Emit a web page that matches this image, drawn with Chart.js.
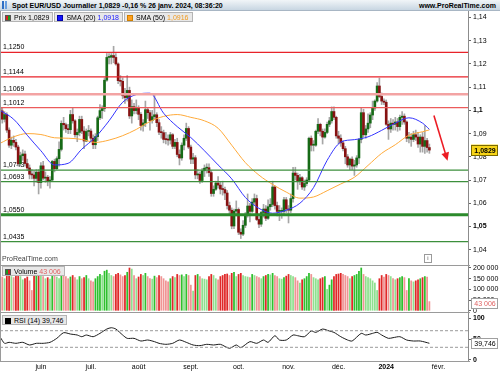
<!DOCTYPE html>
<html>
<head>
<meta charset="utf-8">
<script src="https://cdn.jsdelivr.net/npm/chart.js@4.4.0/dist/chart.umd.min.js"></script>
<style>
  body { margin:0; width:500px; height:375px; position:relative; overflow:hidden; background:#fff;
         font-family:"Liberation Sans", Arial, sans-serif; font-size:7px; color:#000; }
  canvas { position:absolute; left:0; }
  .hdr { position:absolute; left:0; top:0; width:500px; height:11px; box-sizing:border-box;
         background:linear-gradient(#f1f5f8,#c8d6e2); border-bottom:1px solid #a8b6c4; z-index:5; }
  .hdr b { position:absolute; top:1px; font-size:7px; line-height:9px; }
  .ico { position:absolute; left:2px; top:1px; width:7px; height:8px;
         background:linear-gradient(90deg,#2f6fc4 0 2px,transparent 2px 3px,#6aa0e0 3px 5px,transparent 5px); }
  .row { position:absolute; left:2px; display:flex; gap:1px; z-index:5; }
  .lg { height:10px; line-height:9px; background:#e8e8e8; border:1px solid #b4b4b4;
        box-sizing:border-box; padding:0 3px 0 2px; white-space:nowrap; }
  .sq { display:inline-block; width:6px; height:6px; margin-right:3px; vertical-align:-1px; box-sizing:border-box; }
  .line { position:absolute; background:#9a9a9a; z-index:4; }
  .wm { position:absolute; left:2px; top:255px; color:#444; z-index:5; }
  .info { position:absolute; left:424px; top:254px; width:6px; height:7px; border:1px solid #9a9a9a;
          font-size:6px; line-height:7px; text-align:center; color:#555; z-index:5; }
</style>
</head>
<body>
<div class="hdr"><span class="ico"></span>
  <b style="left:12px">Spot EUR/USD Journalier 1,0829 -0,16 % 26 janv. 2024, 08:36:20</b>
  <b style="right:4px">www.ProRealTime.com</b>
</div>
<div class="row" style="top:12px">
  <div class="lg"><span class="sq" style="background:linear-gradient(90deg,#d42020 50%,#1c9a1c 50%);border:1px solid #555"></span>Prix <span id="lgPrix"></span></div>
  <div class="lg"><span class="sq" style="background:#1414ff;border:1px solid #0000aa"></span>SMA (20) <span id="lgSma20" style="color:#2020ff"></span></div>
  <div class="lg"><span class="sq" style="background:#ffa020;border:1px solid #d08000"></span>SMA (50) <span id="lgSma50" style="color:#f09a20"></span></div>
</div>
<div class="wm">ProRealTime.com</div>
<div class="info">i</div>
<div class="row" style="top:266px">
  <div class="lg"><span class="sq" style="background:linear-gradient(90deg,#1c9a1c 50%,#d42020 50%);border:1px solid #555"></span>Volume <span id="lgVol" style="color:#e06262"></span></div>
</div>
<div class="row" style="top:315px">
  <div class="lg"><span class="sq" style="background:#000"></span>RSI (14) <span id="lgRsi"></span></div>
</div>

<div class="line" style="left:0;top:11px;width:1px;height:351px"></div>
<div class="line" style="left:0;top:265px;width:470px;height:1px"></div>
<div class="line" style="left:0;top:312px;width:470px;height:1px"></div>
<div class="line" style="left:0;top:361px;width:470px;height:1px"></div>

<canvas id="price" width="500" height="266" style="top:0"></canvas>
<canvas id="volume" width="500" height="60" style="top:255px"></canvas>
<canvas id="rsi" width="500" height="70" style="top:305px"></canvas>

<script>
// daily candles, 8 May 2023 -> 26 Jan 2024 (index = trading day)
const opens = [
  1.1010,1.0998,1.0962,1.0982,1.0915,1.0850,1.0871,1.0862,1.0842,1.0770,
  1.0805,1.0812,1.0771,1.0752,1.0725,1.0722,1.0707,1.0734,1.0689,1.0761,
  1.0708,1.0712,1.0693,1.0700,1.0780,1.0749,1.0792,1.0832,1.0944,1.0938,
  1.0921,1.0917,1.0982,1.0955,1.0895,1.0905,1.0961,1.0911,1.0868,1.0909,
  1.0911,1.0880,1.0852,1.0887,1.0968,1.0999,1.1008,1.1130,1.1228,1.1229,
  1.1236,1.1228,1.1200,1.1128,1.1125,1.1063,1.1055,1.1086,1.0976,1.1016,
  1.0999,1.1010,1.0983,1.0935,1.0946,1.1003,1.0990,1.0956,1.0973,1.0981,
  1.0947,1.0906,1.0904,1.0875,1.0874,1.0872,1.0895,1.0845,1.0862,1.0810,
  1.0795,1.0850,1.0880,1.0922,1.0842,1.0790,1.0796,1.0722,1.0725,1.0698,
  1.0740,1.0751,1.0753,1.0732,1.0642,1.0660,1.0687,1.0678,1.0661,1.0659,
  1.0644,1.0590,1.0570,1.0502,1.0566,1.0573,1.0475,1.0467,1.0505,1.0550,
  1.0588,1.0565,1.0605,1.0620,1.0530,1.0510,1.0560,1.0575,1.0535,1.0585,
  1.0595,1.0670,1.0590,1.0565,1.0565,1.0565,1.0615,1.0575,1.0570,1.0620,
  1.0730,1.0720,1.0695,1.0710,1.0670,1.0685,1.0700,1.0880,1.0850,1.0850,
  1.0910,1.0940,1.0910,1.0885,1.0905,1.0940,1.0955,1.0995,1.0970,1.0890,
  1.0880,1.0860,1.0835,1.0800,1.0765,1.0790,1.0760,1.0765,1.0795,1.0875,
  1.0990,1.0895,1.0920,1.0945,1.0980,1.1010,1.1040,1.1105,1.1060,1.1040,
  1.1035,1.0940,1.0920,1.0945,1.0940,1.0950,1.0930,1.0970,1.0975,1.0950,
  1.0880,1.0885,1.0875,1.0895,1.0885,1.0855,1.0885,1.0845,1.0870,1.0840
];
const highs = [
  1.1040,1.1010,1.0995,1.0990,1.0925,1.0885,1.0890,1.0875,1.0850,1.0820,
  1.0830,1.0825,1.0790,1.0765,1.0745,1.0740,1.0745,1.0745,1.0775,1.0780,
  1.0735,1.0720,1.0715,1.0785,1.0790,1.0800,1.0865,1.0955,1.0970,1.0945,
  1.0940,1.1000,1.1010,1.0960,1.0920,1.0975,1.0975,1.0930,1.0920,1.0935,
  1.0920,1.0895,1.0900,1.0975,1.1025,1.1020,1.1140,1.1245,1.1245,1.1245,
  1.1276,1.1245,1.1205,1.1150,1.1140,1.1095,1.1150,1.1100,1.1045,1.1030,
  1.1045,1.1020,1.0990,1.0960,1.1040,1.1010,1.1000,1.1000,1.1065,1.0990,
  1.0960,1.0930,1.0915,1.0905,1.0895,1.0905,1.0900,1.0875,1.0880,1.0830,
  1.0860,1.0895,1.0945,1.0930,1.0850,1.0815,1.0805,1.0745,1.0735,1.0750,
  1.0765,1.0770,1.0770,1.0740,1.0675,1.0695,1.0715,1.0690,1.0695,1.0670,
  1.0655,1.0605,1.0580,1.0575,1.0610,1.0580,1.0490,1.0525,1.0560,1.0640,
  1.0600,1.0620,1.0640,1.0635,1.0545,1.0565,1.0595,1.0590,1.0615,1.0620,
  1.0695,1.0675,1.0605,1.0590,1.0580,1.0625,1.0625,1.0590,1.0640,1.0755,
  1.0755,1.0730,1.0725,1.0715,1.0700,1.0710,1.0885,1.0890,1.0870,1.0915,
  1.0965,1.0945,1.0920,1.0920,1.0950,1.0970,1.1015,1.1015,1.0975,1.0910,
  1.0895,1.0870,1.0845,1.0810,1.0795,1.0800,1.0785,1.0805,1.0880,1.1010,
  1.1005,1.0935,1.0985,1.0990,1.1040,1.1045,1.1120,1.1139,1.1075,1.1050,
  1.1045,1.0955,1.0965,1.0960,1.0970,1.0965,1.0980,1.0995,1.0985,1.0955,
  1.0905,1.0900,1.0910,1.0915,1.0905,1.0895,1.0905,1.0935,1.0880,1.0855
];
const lows = [
  1.0975,1.0945,1.0950,1.0905,1.0840,1.0835,1.0845,1.0830,1.0760,1.0760,
  1.0785,1.0760,1.0740,1.0705,1.0705,1.0675,1.0690,1.0640,1.0665,1.0700,
  1.0690,1.0675,1.0665,1.0695,1.0735,1.0745,1.0760,1.0825,1.0915,1.0905,
  1.0900,1.0900,1.0945,1.0885,1.0865,1.0890,1.0900,1.0835,1.0865,1.0890,
  1.0865,1.0835,1.0835,1.0870,1.0960,1.0965,1.0995,1.1125,1.1200,1.1200,
  1.1205,1.1195,1.1115,1.1105,1.1050,1.1030,1.1040,1.0965,1.0945,1.0985,
  1.0985,1.0960,1.0915,1.0910,1.0930,1.0965,1.0915,1.0945,1.0960,1.0930,
  1.0895,1.0880,1.0860,1.0855,1.0850,1.0855,1.0835,1.0835,1.0800,1.0765,
  1.0785,1.0830,1.0870,1.0835,1.0770,1.0770,1.0705,1.0705,1.0685,1.0690,
  1.0715,1.0730,1.0715,1.0630,1.0630,1.0655,1.0665,1.0640,1.0635,1.0615,
  1.0575,1.0555,1.0490,1.0490,1.0545,1.0465,1.0448,1.0460,1.0495,1.0540,
  1.0520,1.0560,1.0595,1.0525,1.0495,1.0500,1.0540,1.0525,1.0530,1.0570,
  1.0585,1.0575,1.0545,1.0525,1.0535,1.0555,1.0560,1.0515,1.0560,1.0605,
  1.0700,1.0660,1.0680,1.0660,1.0655,1.0675,1.0695,1.0825,1.0825,1.0845,
  1.0900,1.0890,1.0855,1.0880,1.0900,1.0930,1.0945,1.0960,1.0880,1.0855,
  1.0845,1.0825,1.0770,1.0755,1.0745,1.0745,1.0720,1.0755,1.0770,1.0860,
  1.0885,1.0880,1.0905,1.0925,1.0960,1.1000,1.1035,1.1055,1.1025,1.1025,
  1.0935,1.0875,1.0905,1.0915,1.0915,1.0910,1.0915,1.0940,1.0940,1.0865,
  1.0860,1.0845,1.0865,1.0870,1.0840,1.0820,1.0820,1.0815,1.0820,1.0815
];
const closes = [
  1.0998,1.0962,1.0982,1.0915,1.0850,1.0871,1.0862,1.0842,1.0770,1.0805,
  1.0812,1.0771,1.0752,1.0725,1.0722,1.0707,1.0734,1.0689,1.0761,1.0708,
  1.0712,1.0693,1.0700,1.0780,1.0749,1.0792,1.0832,1.0944,1.0938,1.0921,
  1.0917,1.0982,1.0955,1.0895,1.0905,1.0961,1.0911,1.0868,1.0909,1.0911,
  1.0880,1.0852,1.0887,1.0968,1.0999,1.1008,1.1130,1.1228,1.1229,1.1236,
  1.1228,1.1200,1.1128,1.1125,1.1063,1.1055,1.1086,1.0976,1.1016,1.0999,
  1.1010,1.0983,1.0935,1.0946,1.1003,1.0990,1.0956,1.0973,1.0981,1.0947,
  1.0906,1.0904,1.0875,1.0874,1.0872,1.0895,1.0845,1.0862,1.0810,1.0795,
  1.0850,1.0880,1.0922,1.0842,1.0790,1.0796,1.0722,1.0725,1.0698,1.0740,
  1.0751,1.0753,1.0732,1.0642,1.0660,1.0687,1.0678,1.0661,1.0659,1.0644,
  1.0590,1.0570,1.0502,1.0566,1.0573,1.0475,1.0467,1.0505,1.0550,1.0588,
  1.0565,1.0605,1.0620,1.0530,1.0510,1.0560,1.0575,1.0535,1.0585,1.0595,
  1.0670,1.0590,1.0565,1.0565,1.0565,1.0615,1.0575,1.0570,1.0620,1.0730,
  1.0720,1.0695,1.0710,1.0670,1.0685,1.0700,1.0880,1.0850,1.0850,1.0910,
  1.0940,1.0910,1.0885,1.0905,1.0940,1.0955,1.0995,1.0970,1.0890,1.0880,
  1.0860,1.0835,1.0800,1.0765,1.0790,1.0760,1.0765,1.0795,1.0875,1.0990,
  1.0895,1.0920,1.0945,1.0980,1.1010,1.1040,1.1105,1.1060,1.1040,1.1035,
  1.0940,1.0920,1.0945,1.0940,1.0950,1.0930,1.0970,1.0975,1.0950,1.0880,
  1.0885,1.0875,1.0895,1.0885,1.0855,1.0885,1.0845,1.0870,1.0840,1.0829
];
// volume in thousands
const volumesK = [
  165,158,150,162,170,160,155,168,172,160,
  145,150,158,140,95,165,170,175,168,160,
  150,155,148,170,162,158,150,180,172,160,
  150,158,165,155,145,160,150,155,165,150,
  140,135,150,160,170,165,185,190,175,165,
  160,170,175,168,160,165,180,200,195,165,
  150,158,170,165,175,160,150,148,162,155,
  165,160,150,140,135,150,160,155,170,165,
  168,160,170,165,120,92,165,170,160,150,
  148,145,160,170,165,150,145,160,165,170,
  172,165,175,180,160,170,175,165,160,158,
  155,170,165,160,155,150,160,165,170,168,
  175,165,160,150,148,155,162,170,165,160,
  155,140,130,145,150,160,175,170,155,150,
  145,150,155,160,100,120,145,160,170,172,
  175,170,165,160,150,160,165,170,185,200,
  170,160,155,150,140,130,95,150,165,158,
  170,165,160,150,145,150,155,160,155,95,
  150,140,135,140,145,150,155,160,158,43.006
];

const smaDays = [0,6,12,18,24,30,36,42,48,54,60,66,72,78,84,90,96,102,108,114,120,126,132,138,144,150,156,162,168,174,180,186,189];
const sma20 = [1.1000,1.0962,1.0893,1.0826,1.0765,1.0772,1.0833,1.0884,1.0955,1.1035,1.1068,1.1074,1.0988,1.0930,1.0883,1.0826,1.0765,
               1.0705,1.0625,1.0578,1.0557,1.0570,1.0600,1.0667,1.0785,1.0863,1.0874,1.0886,1.0914,1.0945,1.0968,1.0945,1.0918];
const sma50 = [1.0858,1.0886,1.0900,1.0896,1.0882,1.0880,1.0875,1.0862,1.0872,1.0891,1.0918,1.0952,1.0974,1.0982,1.0970,1.0955,1.0923,
               1.0850,1.0775,1.0721,1.0681,1.0648,1.0622,1.0627,1.0654,1.0683,1.0712,1.0763,1.0815,1.0852,1.0893,1.0908,1.0916];

const rsiDays = [0,2,4,7,10,13,16,19,22,25,28,31,34,36,38,41,44,47,49,51,54,56,59,62,65,68,70,73,76,79,82,85,88,91,94,97,101,104,106,110,
                 113,116,118,121,123,126,129,131,134,137,139,142,145,147,150,153,155,159,161,164,166,168,171,173,176,179,182,185,189];
const rsiVals = [55.6,39.6,42,39.6,42,35.6,39.6,39.6,42,51.6,65.2,62,59.6,55.6,59.6,55.6,63.6,74,77.2,74,59.6,51.6,51.6,45.2,47.6,
                 43.6,39.6,37.2,39.6,47.6,42,35.6,34,37.2,35.6,37.2,27.6,35.6,29.2,43.6,39.6,47.6,42,58,47.6,47.6,59.6,58,55.6,69.2,
                 66,74,69.2,66,55.6,47.6,45.2,63.6,59.6,63.6,66,59.6,51.6,53.2,55.6,47.6,45.2,45.2,39.746];
const rsiLevels = [70, 30];

const resistances = [1.1250, 1.1144, 1.1069, 1.1012];
const supports = [1.0743, 1.0693, 1.0550, 1.0435];
const arrowFrom = [191, 1.0978];
const arrowTo = [197, 1.0783];

const monthStarts = [18, 40, 61, 84, 105, 127, 149, 170, 193];
const monthLabels = ['juin', 'juil.', 'août', 'sept.', 'oct.', 'nov.', 'déc.', '2024', 'févr.'];
const priceTicks = [1.04, 1.05, 1.06, 1.07, 1.08, 1.09, 1.10, 1.11, 1.12, 1.13, 1.14];
const volumeTicks = [0, 50, 100, 150, 200];
const rsiTicks = [0, 50, 100];

// ---- setup
const X_MIN = 0, X_MAX = 206;
const FONT = '"Liberation Sans", Arial, sans-serif';
Chart.defaults.font.family = FONT;
Chart.defaults.font.size = 7;
Chart.defaults.color = '#000';
Chart.defaults.animation = false;
Chart.defaults.plugins.legend.display = false;
Chart.defaults.plugins.tooltip.enabled = false;

const last = closes.length - 1;
const comma = (v, d) => v.toFixed(d).replace('.', ',');
const spaced = n => String(Math.round(n)).replace(/\B(?=(\d{3})+(?!\d))/g, ' ');

document.getElementById('lgPrix').textContent = comma(closes[last], 4);
document.getElementById('lgSma20').textContent = comma(sma20[sma20.length - 1], 4);
document.getElementById('lgSma50').textContent = comma(sma50[sma50.length - 1], 4);
document.getElementById('lgVol').textContent = spaced(volumesK[last] * 1000);
document.getElementById('lgRsi').textContent = comma(rsiVals[rsiVals.length - 1], 3);

const up = closes.map((c, i) => c >= opens[i]);

function rightAxis(min, max, ticks, fmt, boldSet) {
  return {
    position: 'right', min: min, max: max,
    afterFit: s => { s.width = 32; s.paddingTop = 0; s.paddingBottom = 0; },
    afterBuildTicks: s => { s.ticks = ticks.map(v => ({ value: v })); },
    grid: { drawOnChartArea: false, tickLength: 3, color: '#666' },
    border: { color: '#8c8c8c' },
    ticks: {
      padding: 2, callback: fmt,
      font: c => ({ family: FONT, size: 7, weight: boldSet.includes(c.tick && c.tick.value) ? 'bold' : 'normal' })
    }
  };
}
function hiddenX() {
  return { type: 'linear', min: X_MIN, max: X_MAX, offset: false, display: false };
}
function flatLine(v, color, width, dash) {
  return { type: 'line', data: [{ x: X_MIN, y: v }, { x: X_MAX, y: v }], borderColor: color,
           borderWidth: width, borderDash: dash || [], pointRadius: 0, order: 0 };
}
function valueBox(ctx, x, y, text, opts) {
  ctx.save();
  ctx.font = (opts.bold ? 'bold ' : '') + '7px ' + FONT;
  ctx.fillStyle = opts.bg;
  ctx.fillRect(x, y - 5.5, 27, 11);
  ctx.strokeStyle = opts.border;
  ctx.lineWidth = 1;
  ctx.strokeRect(x + 0.5, Math.round(y - 5.5) + 0.5, 26, 10);
  ctx.fillStyle = opts.color;
  ctx.textAlign = 'center';
  ctx.textBaseline = 'middle';
  ctx.fillText(text, x + 14, y + 0.5);
  ctx.restore();
}

// ---- price panel
const pricePlugin = {
  id: 'pricePlugin',
  beforeDatasetsDraw(chart) {
    const { ctx, scales: { y } } = chart;
    ctx.save();
    ctx.font = '7px ' + FONT;
    ctx.fillStyle = '#000';
    ctx.textBaseline = 'alphabetic';
    resistances.concat(supports).forEach(v => ctx.fillText(comma(v, 4), 3, y.getPixelForValue(v) - 3));
    ctx.restore();
  },
  afterDatasetsDraw(chart) {
    const { ctx, scales: { x, y } } = chart;
    const x1 = x.getPixelForValue(arrowFrom[0]), y1 = y.getPixelForValue(arrowFrom[1]);
    const x2 = x.getPixelForValue(arrowTo[0]), y2 = y.getPixelForValue(arrowTo[1]);
    const a = Math.atan2(y2 - y1, x2 - x1), head = 9;
    ctx.save();
    ctx.strokeStyle = '#ec1c24';
    ctx.fillStyle = '#ec1c24';
    ctx.lineWidth = 1.6;
    ctx.beginPath();
    ctx.moveTo(x1, y1);
    ctx.lineTo(x2 - head * 0.8 * Math.cos(a), y2 - head * 0.8 * Math.sin(a));
    ctx.stroke();
    ctx.beginPath();
    ctx.moveTo(x2, y2);
    ctx.lineTo(x2 - head * Math.cos(a - 0.45), y2 - head * Math.sin(a - 0.45));
    ctx.lineTo(x2 - head * Math.cos(a + 0.45), y2 - head * Math.sin(a + 0.45));
    ctx.closePath();
    ctx.fill();
    ctx.restore();
  },
  afterDraw(chart) {
    const y = chart.scales.y;
    valueBox(chart.ctx, 471, y.getPixelForValue(closes[last]), comma(closes[last], 4),
             { bg: '#f7d417', border: '#7a6a00', color: '#000', bold: true });
  }
};

const resColors = ['#e8232a', '#e8232a', '#f3a3a3', '#ec5b5b'];
const resWidths = [1.2, 1.2, 2.5, 1.2];
const supColors = ['#3c8f3c', '#3c8f3c', '#2b8a2b', '#3c8f3c'];
const supWidths = [1.2, 1.2, 3, 1.2];

new Chart(document.getElementById('price'), {
  type: 'bar',
  data: {
    datasets: [
      ...resistances.map((v, i) => flatLine(v, resColors[i], resWidths[i])),
      ...supports.map((v, i) => flatLine(v, supColors[i], supWidths[i])),
      { type: 'line', data: smaDays.map((d, i) => ({ x: d, y: sma20[i] })), borderColor: '#3434ff',
        borderWidth: 1, pointRadius: 0, cubicInterpolationMode: 'monotone', order: 1 },
      { type: 'line', data: smaDays.map((d, i) => ({ x: d, y: sma50[i] })), borderColor: '#ffaa3a',
        borderWidth: 1, pointRadius: 0, cubicInterpolationMode: 'monotone', order: 1 },
      { type: 'bar', data: closes.map((c, i) => ({ x: i, y: [opens[i], c] })),
        backgroundColor: up.map(u => u ? '#166a16' : '#861212'), barThickness: 2, minBarLength: 1,
        grouped: false, order: 2 },
      { type: 'bar', data: closes.map((c, i) => ({ x: i, y: [lows[i], highs[i]] })),
        backgroundColor: '#a6a6a6', barThickness: 1, grouped: false, order: 3 }
    ]
  },
  options: {
    responsive: false,
    layout: { padding: { top: 11, bottom: 1, left: 0, right: 0 } },
    scales: {
      x: hiddenX(),
      y: rightAxis(1.0334, 1.1428, priceTicks, v => comma(v, 2).replace(/0+$/, '').replace(/,$/, ''), [1.10, 1.05])
    }
  },
  plugins: [pricePlugin]
});

// ---- volume panel
const volShades = volumesK.map((v, i) => {
  const lighter = i > 0 && v < volumesK[i - 1];
  if (up[i]) return lighter ? '#8fe08f' : '#2ec02e';
  return lighter ? '#f09494' : '#e02828';
});
new Chart(document.getElementById('volume'), {
  type: 'bar',
  data: {
    datasets: [{ data: volumesK.map((v, i) => ({ x: i, y: v })), backgroundColor: volShades, barThickness: 1.1 }]
  },
  options: {
    responsive: false,
    layout: { padding: { top: 10, bottom: 3, left: 0, right: 0 } },
    scales: {
      x: hiddenX(),
      y: rightAxis(-5.6, 214, volumeTicks, v => spaced(v * 1000), [])
    }
  },
  plugins: [{
    id: 'volBox',
    afterDraw(chart) {
      valueBox(chart.ctx, 471, chart.scales.y.getPixelForValue(volumesK[last]) + 2, spaced(volumesK[last] * 1000),
               { bg: '#fff', border: '#a0a0a0', color: '#e06262' });
    }
  }]
});

// ---- RSI panel
new Chart(document.getElementById('rsi'), {
  type: 'line',
  data: {
    datasets: [
      ...rsiLevels.map(v => flatLine(v, '#9a9a9a', 1, [3, 2])),
      { data: rsiDays.map((d, i) => ({ x: d, y: rsiVals[i] })), borderColor: '#1a1a1a', borderWidth: 1,
        pointRadius: 0, tension: 0.25, order: 1 }
    ]
  },
  options: {
    responsive: false,
    layout: { padding: { top: 8, bottom: 0, left: 0, right: 0 } },
    scales: {
      x: {
        type: 'linear', min: X_MIN, max: X_MAX, offset: false,
        afterFit: s => { s.height = 14; s.paddingLeft = 0; s.paddingRight = 0; },
        afterBuildTicks: s => { s.ticks = monthStarts.map(v => ({ value: v })); },
        grid: { display: false, drawTicks: false },
        border: { display: false },
        ticks: {
          padding: 2, maxRotation: 0, autoSkip: false,
          callback: v => monthLabels[monthStarts.indexOf(v)],
          font: c => ({ family: FONT, size: 7, weight: c.tick && c.tick.value === 170 ? 'bold' : 'normal' })
        }
      },
      y: rightAxis(-3, 112.7, rsiTicks, v => String(v), [0, 50, 100])
    }
  },
  plugins: [{
    id: 'rsiBox',
    afterDraw(chart) {
      const v = rsiVals[rsiVals.length - 1];
      valueBox(chart.ctx, 471, chart.scales.y.getPixelForValue(v), comma(v, 3),
               { bg: '#fff', border: '#a0a0a0', color: '#000' });
    }
  }]
});
</script>
</body>
</html>
